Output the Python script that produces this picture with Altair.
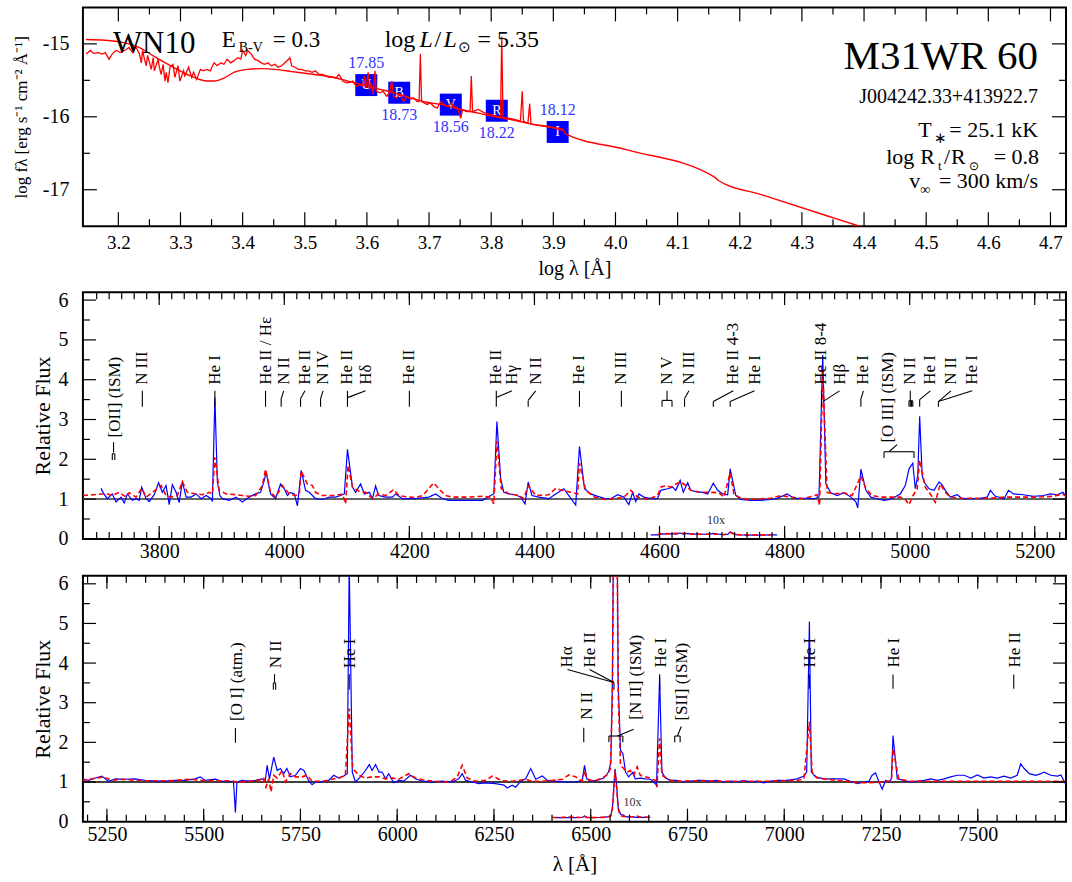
import altair as alt
import numpy as np
import pandas as pd

FONT = "Liberation Serif"
BLUE = "#0000ff"
RED = "#ff0000"
PHOT_TEXT = "#3333ff"

# ---------------------------------------------------------------------------
# Spectral energy distribution (top panel)
# ---------------------------------------------------------------------------
sed_obs_loglam = [
    3.148, 3.155, 3.160, 3.168, 3.174, 3.179, 3.185, 3.190, 3.196, 3.204,
    3.212, 3.217, 3.223, 3.226, 3.228, 3.234, 3.237, 3.239, 3.242, 3.245,
    3.247, 3.253, 3.256, 3.258, 3.264, 3.266, 3.269, 3.272, 3.275, 3.277,
    3.280, 3.283, 3.288, 3.291, 3.296, 3.299, 3.305, 3.307, 3.313, 3.318,
    3.321, 3.326, 3.332, 3.337, 3.343, 3.348, 3.354, 3.359, 3.365, 3.370,
    3.375, 3.381, 3.386, 3.392, 3.397, 3.400, 3.405, 3.408, 3.414, 3.419,
    3.425, 3.430, 3.435, 3.441, 3.446, 3.452, 3.457, 3.463, 3.468, 3.474,
    3.476, 3.479, 3.484, 3.490, 3.495, 3.501, 3.506, 3.512, 3.517, 3.523,
    3.528, 3.534, 3.539, 3.544, 3.550, 3.555, 3.561, 3.566, 3.572, 3.577,
    3.583, 3.588, 3.593, 3.596, 3.599, 3.602, 3.604, 3.607, 3.610, 3.613,
    3.615, 3.621, 3.626, 3.632, 3.637, 3.640, 3.643, 3.648, 3.653, 3.659,
    3.664, 3.670, 3.675, 3.681, 3.684, 3.686, 3.688, 3.697, 3.702, 3.708,
    3.713, 3.719, 3.724, 3.730, 3.735, 3.741, 3.746, 3.751, 3.754, 3.760,
    3.766, 3.768, 3.770, 3.779, 3.790, 3.801, 3.811, 3.815, 3.817, 3.819,
    3.828, 3.839, 3.847, 3.850, 3.852, 3.859, 3.862, 3.864, 3.886, 3.903,
    3.916,
]
sed_obs_logf = [
    -15.14, -15.09, -15.13, -15.12, -15.14, -15.12, -15.21, -15.14, -15.09, -15.12,
    -15.08, -15.05, -15.12, -15.07, -15.04, -15.14, -15.26, -15.09, -15.21, -15.30,
    -15.16, -15.35, -15.19, -15.37, -15.21, -15.32, -15.42, -15.28, -15.51, -15.39,
    -15.53, -15.32, -15.28, -15.46, -15.30, -15.51, -15.37, -15.44, -15.32, -15.46,
    -15.39, -15.49, -15.35, -15.37, -15.35, -15.37, -15.26, -15.30, -15.26, -15.28,
    -15.21, -15.26, -15.23, -15.19, -15.21, -15.09, -15.16, -15.09, -15.14, -15.21,
    -15.23, -15.26, -15.28, -15.26, -15.30, -15.28, -15.32, -15.30, -15.26, -15.21,
    -15.19, -15.30, -15.32, -15.35, -15.35, -15.37, -15.37, -15.39, -15.37, -15.42,
    -15.42, -15.44, -15.46, -15.45, -15.47, -15.42, -15.51, -15.53, -15.53, -15.51,
    -15.58, -15.56, -15.58, -15.44, -15.60, -15.39, -15.63, -15.53, -15.69, -15.37,
    -15.65, -15.67, -15.65, -15.72, -15.65, -15.51, -15.72, -15.74, -15.69, -15.79,
    -15.72, -15.76, -15.74, -15.79, -15.79, -15.14, -15.79, -15.83, -15.81, -15.86,
    -15.88, -15.79, -15.83, -15.86, -15.81, -15.86, -15.88, -16.02, -15.90, -15.93,
    -15.93, -15.44, -15.93, -15.90, -15.95, -15.97, -16.00, -16.00, -14.90, -16.00,
    -16.02, -16.04, -16.06, -15.65, -16.06, -16.09, -15.82, -16.10, -16.13, -16.16,
    -16.19,
]
sed_model_loglam = [
    3.148, 3.179, 3.207, 3.234, 3.261, 3.288, 3.316, 3.343, 3.354, 3.370,
    3.386, 3.408, 3.430, 3.452, 3.479, 3.506, 3.534, 3.561, 3.588, 3.615,
    3.643, 3.670, 3.697, 3.724, 3.751, 3.779, 3.806, 3.833, 3.854, 3.903,
    3.916, 3.919, 4.017, 4.160, 4.165, 4.236, 4.356, 4.400,
]
sed_model_logf = [
    -14.94, -14.95, -14.98, -15.05, -15.19, -15.32, -15.44, -15.51, -15.51, -15.47,
    -15.39, -15.35, -15.34, -15.35, -15.38, -15.41, -15.44, -15.49, -15.55, -15.61,
    -15.67, -15.74, -15.80, -15.84, -15.90, -15.95, -16.00, -16.04, -16.08, -16.15,
    -16.17, -16.23, -16.45, -16.83, -16.87, -17.07, -17.40, -17.52,
]
phot_band = ["U", "B", "V", "R", "I"]
phot_loglam = [3.599, 3.652, 3.735, 3.809, 3.907]
phot_logf = [-15.565, -15.670, -15.833, -15.917, -16.208]
phot_mag = ["17.85", "18.73", "18.56", "18.22", "18.12"]
phot_mag_side = ["above", "below", "below", "below", "above"]

# ---------------------------------------------------------------------------
# Normalized spectrum, blue range (middle panel)
# ---------------------------------------------------------------------------
mid_blue_wave = [
    3707, 3710, 3717, 3725, 3731, 3739, 3744, 3749, 3757, 3763,
    3768, 3772, 3779, 3784, 3792, 3799, 3805, 3811, 3816, 3821,
    3827, 3832, 3837, 3843, 3851, 3859, 3867, 3875, 3883, 3885,
    3889, 3893, 3897, 3901, 3912, 3923, 3933, 3944, 3954, 3962,
    3968, 3971, 3978, 3986, 3994, 4000, 4005, 4010, 4016, 4021,
    4027, 4034, 4040, 4045, 4050, 4061, 4072, 4082, 4090, 4096,
    4101, 4109, 4114, 4122, 4128, 4136, 4141, 4146, 4151, 4162,
    4173, 4178, 4189, 4210, 4231, 4242, 4253, 4263, 4290, 4317,
    4330, 4335, 4340, 4346, 4351, 4359, 4370, 4378, 4385, 4390,
    4396, 4407, 4423, 4434, 4447, 4455, 4466, 4472, 4480, 4490,
    4501, 4512, 4522, 4533, 4543, 4551, 4557, 4562, 4567, 4575,
    4586, 4597, 4602, 4613, 4621, 4626, 4633, 4638, 4645, 4650,
    4658, 4669, 4677, 4686, 4693, 4701, 4709, 4713, 4722, 4730,
    4746, 4762, 4778, 4788, 4804, 4815, 4831, 4847, 4855, 4861,
    4866, 4874, 4884, 4895, 4906, 4914, 4917, 4922, 4930, 4938,
    4948, 4959, 4969, 4985, 4993, 4999, 5005, 5009, 5013, 5016,
    5020, 5023, 5031, 5039, 5047, 5052, 5057, 5065, 5076, 5084,
    5097, 5113, 5124, 5129, 5137, 5151, 5158, 5166, 5182, 5198,
    5214, 5225, 5236, 5245, 5250,
]
mid_blue_flux = [
    1.27, 1.17, 1.01, 1.13, 0.93, 1.05, 0.90, 1.13, 0.97, 1.01,
    0.97, 1.30, 1.01, 0.94, 1.11, 1.41, 1.17, 1.34, 0.86, 1.36,
    1.17, 0.91, 1.44, 1.05, 1.05, 1.13, 1.01, 1.09, 1.01, 0.94,
    3.55, 1.43, 1.09, 1.01, 0.97, 1.05, 0.93, 1.05, 1.13, 1.17,
    1.47, 1.68, 1.13, 1.01, 1.38, 1.26, 1.09, 1.17, 1.13, 0.83,
    1.72, 1.22, 1.17, 1.09, 1.01, 0.99, 1.05, 1.05, 1.09, 1.13,
    2.25, 1.30, 1.17, 1.38, 1.13, 1.17, 1.01, 1.33, 1.09, 1.05,
    1.05, 1.13, 1.01, 1.01, 1.05, 1.13, 1.01, 0.97, 0.97, 0.97,
    1.09, 1.13, 2.95, 1.51, 1.17, 1.13, 1.11, 1.05, 0.88, 1.43,
    1.09, 1.05, 1.01, 1.13, 1.26, 1.09, 0.85, 2.32, 1.26, 1.13,
    1.07, 1.02, 1.01, 1.11, 1.05, 0.86, 1.17, 0.94, 1.13, 1.05,
    1.01, 1.02, 1.22, 1.26, 1.30, 1.22, 1.47, 1.17, 1.41, 1.22,
    1.19, 1.17, 1.13, 1.40, 1.22, 1.13, 1.11, 1.76, 1.09, 0.99,
    0.97, 0.97, 0.99, 1.02, 1.13, 1.02, 1.02, 1.01, 1.05, 4.62,
    1.38, 1.16, 1.09, 1.16, 1.05, 0.93, 0.78, 1.75, 1.22, 1.05,
    1.01, 0.97, 0.99, 1.13, 1.34, 1.76, 1.90, 1.26, 1.60, 3.08,
    1.60, 1.43, 1.26, 1.22, 1.43, 1.36, 1.22, 1.05, 1.11, 1.01,
    1.01, 1.02, 1.05, 1.22, 1.07, 1.01, 1.22, 1.13, 1.11, 1.07,
    1.09, 1.13, 1.11, 1.17, 1.07,
]
mid_red_wave = [
    3678, 3694, 3710, 3717, 3725, 3736, 3747, 3752, 3763, 3772,
    3779, 3795, 3803, 3811, 3819, 3829, 3837, 3845, 3859, 3869,
    3880, 3885, 3889, 3896, 3907, 3923, 3933, 3944, 3954, 3965,
    3970, 3978, 3986, 3997, 4008, 4018, 4024, 4027, 4037, 4045,
    4050, 4061, 4082, 4093, 4098, 4102, 4109, 4120, 4130, 4141,
    4151, 4162, 4175, 4183, 4199, 4210, 4221, 4231, 4239, 4247,
    4258, 4269, 4290, 4317, 4330, 4335, 4340, 4347, 4359, 4375,
    4383, 4390, 4402, 4423, 4434, 4444, 4460, 4469, 4472, 4482,
    4496, 4512, 4527, 4543, 4554, 4565, 4581, 4597, 4602, 4610,
    4618, 4626, 4634, 4642, 4650, 4666, 4682, 4695, 4703, 4713,
    4719, 4730, 4746, 4762, 4778, 4794, 4810, 4831, 4852, 4856,
    4861, 4868, 4879, 4895, 4908, 4922, 4930, 4940, 4953, 4969,
    4985, 4993, 4999, 5004, 5012, 5016, 5025, 5033, 5041, 5049,
    5057, 5065, 5081, 5097, 5124, 5151, 5177, 5204, 5230, 5244,
    5250,
]
mid_red_flux = [
    1.09, 1.11, 1.13, 1.13, 1.09, 1.17, 1.05, 1.16, 1.05, 1.27,
    1.05, 1.24, 1.34, 1.09, 1.05, 1.09, 1.44, 1.17, 1.13, 1.11,
    1.17, 1.13, 2.05, 1.22, 1.13, 1.11, 1.09, 1.07, 1.09, 1.34,
    1.75, 1.17, 1.05, 1.34, 1.13, 1.09, 1.13, 1.70, 1.38, 1.34,
    1.17, 1.09, 1.09, 1.13, 0.88, 1.85, 1.30, 1.19, 1.17, 1.01,
    1.13, 1.09, 1.24, 1.09, 1.05, 1.04, 1.09, 1.26, 1.41, 1.26,
    1.09, 1.05, 1.05, 1.07, 1.05, 0.88, 2.45, 1.26, 1.13, 1.09,
    1.01, 1.34, 1.09, 1.11, 1.27, 1.22, 1.17, 1.13, 1.90, 1.22,
    1.05, 0.99, 1.01, 1.05, 1.22, 1.05, 0.99, 1.09, 1.30, 1.34,
    1.30, 1.38, 1.43, 1.34, 1.22, 1.17, 1.17, 1.16, 1.05, 1.66,
    1.13, 1.02, 0.99, 1.01, 1.02, 1.09, 1.05, 1.01, 1.11, 0.84,
    4.25, 1.17, 1.13, 1.16, 1.09, 1.58, 1.26, 1.09, 1.05, 1.05,
    1.05, 0.99, 0.86, 1.05, 1.26, 1.98, 1.30, 1.13, 0.92, 1.38,
    1.17, 1.05, 1.02, 1.02, 1.02, 1.05, 1.05, 1.05, 1.07, 1.13,
    1.07,
]
mid_id_text = [
    "[OII] (ISM)", "N III", "He I", "He II / Hε", "N II", "He II", "N IV",
    "He II", "Hδ", "He II", "He II", "Hγ", "N II", "He I", "N III", "N V",
    "N III", "He II 4-3", "He I", "He II 8-4", "Hβ", "He I", "[O III] (ISM)",
    "N II", "He I", "N II", "He I",
]
mid_id_wave = [
    3729, 3773, 3889, 3970, 3999, 4033, 4062, 4101, 4130, 4200, 4339, 4364,
    4402, 4472, 4539, 4612, 4647, 4718, 4752, 4858, 4888, 4926, 4966, 5001,
    5033, 5066, 5100,
]
mid_id_flux = [2.55] + [3.87] * 21 + [2.42] + [3.87] * 4
# marker strokes below the identifications: (x1, y1, x2, y2)
mid_id_segments = [
    (3727, 2.17, 3727, 2.43), (3725, 1.98, 3725, 2.14), (3729, 1.98, 3729, 2.14),
    (3725, 2.14, 3729, 2.14),
    (3773, 3.32, 3773, 3.72), (3889, 3.32, 3889, 3.72), (3970, 3.32, 3970, 3.72),
    (3995, 3.32, 3995, 3.52), (3995, 3.52, 3999, 3.72),
    (4026, 3.32, 4026, 3.52), (4026, 3.52, 4033, 3.72),
    (4058, 3.32, 4058, 3.52), (4058, 3.52, 4062, 3.72),
    (4101, 3.32, 4101, 3.72), (4101, 3.55, 4130, 3.72),
    (4200, 3.32, 4200, 3.72),
    (4339, 3.32, 4339, 3.72), (4339, 3.55, 4364, 3.72),
    (4390, 3.32, 4390, 3.48), (4390, 3.48, 4402, 3.72),
    (4472, 3.32, 4472, 3.72), (4539, 3.32, 4539, 3.72),
    (4604, 3.32, 4604, 3.48), (4620, 3.32, 4620, 3.48), (4604, 3.48, 4620, 3.48),
    (4612, 3.48, 4612, 3.72),
    (4640, 3.32, 4640, 3.52), (4640, 3.52, 4647, 3.72),
    (4686, 3.32, 4686, 3.45), (4686, 3.45, 4718, 3.72),
    (4713, 3.32, 4713, 3.45), (4713, 3.45, 4752, 3.72),
    (4859, 3.32, 4859, 3.72), (4861, 3.45, 4888, 3.72),
    (4922, 3.32, 4922, 3.52), (4922, 3.52, 4926, 3.72),
    (4959, 2.03, 4959, 2.19), (5007, 2.03, 5007, 2.19), (4959, 2.19, 5007, 2.19),
    (4967, 2.19, 4980, 2.37),
    (4999, 3.32, 4999, 3.47), (5001, 3.32, 5001, 3.72), (5003, 3.32, 5003, 3.47),
    (5005, 3.32, 5005, 3.47), (4999, 3.47, 5005, 3.47),
    (5016, 3.32, 5016, 3.50), (5016, 3.50, 5033, 3.72),
    (5046, 3.32, 5046, 3.45), (5046, 3.45, 5066, 3.72), (5046, 3.45, 5100, 3.72),
]

# ---------------------------------------------------------------------------
# Normalized spectrum, red range (bottom panel)
# ---------------------------------------------------------------------------
bot_blue_wave = [
    5185, 5203, 5220, 5237, 5254, 5272, 5297, 5323, 5349, 5375,
    5401, 5427, 5453, 5478, 5491, 5504, 5530, 5547, 5565, 5577,
    5582, 5586, 5599, 5616, 5634, 5651, 5659, 5664, 5670, 5681,
    5690, 5698, 5707, 5715, 5724, 5737, 5750, 5759, 5771, 5780,
    5789, 5806, 5823, 5836, 5849, 5862, 5871, 5876, 5884, 5892,
    5905, 5918, 5928, 5935, 5944, 5953, 5961, 5970, 5978, 5991,
    6004, 6017, 6034, 6047, 6065, 6090, 6116, 6142, 6159, 6168,
    6177, 6194, 6211, 6228, 6254, 6276, 6284, 6297, 6306, 6319,
    6332, 6345, 6358, 6375, 6388, 6409, 6435, 6461, 6478, 6484,
    6490, 6499, 6516, 6534, 6546, 6552, 6556, 6560, 6563, 6567,
    6571, 6577, 6583, 6590, 6598, 6609, 6615, 6628, 6641, 6654,
    6663, 6670, 6678, 6684, 6693, 6706, 6723, 6740, 6758, 6775,
    6792, 6809, 6827, 6844, 6861, 6878, 6896, 6913, 6930, 6947,
    6965, 6982, 7008, 7033, 7051, 7058, 7065, 7070, 7081, 7102,
    7128, 7154, 7171, 7189, 7206, 7219, 7227, 7236, 7245, 7253,
    7262, 7271, 7277, 7281, 7292, 7309, 7327, 7344, 7361, 7378,
    7396, 7413, 7430, 7447, 7465, 7482, 7499, 7516, 7533, 7551,
    7568, 7585, 7602, 7611, 7620, 7633, 7650, 7663, 7671, 7689,
    7706, 7715, 7723, 7732,
]
bot_blue_flux = [
    1.08, 1.04, 1.10, 1.15, 1.02, 1.08, 1.07, 1.08, 1.04, 1.02,
    1.02, 1.04, 1.04, 1.08, 1.13, 1.04, 1.07, 1.02, 1.00, 1.02,
    0.23, 1.00, 1.04, 1.02, 1.04, 1.08, 1.02, 1.42, 1.08, 1.63,
    1.29, 1.34, 1.21, 1.34, 1.13, 1.17, 1.34, 1.29, 1.04, 0.93,
    1.00, 1.00, 1.04, 1.17, 1.10, 1.15, 1.21, 6.50, 1.25, 1.00,
    1.13, 1.29, 1.44, 1.29, 1.44, 1.25, 1.25, 1.08, 1.21, 0.98,
    1.04, 1.02, 1.17, 1.08, 1.02, 1.00, 1.02, 1.00, 1.08, 1.21,
    1.04, 1.00, 0.96, 0.98, 0.96, 0.92, 0.85, 0.92, 0.87, 1.02,
    1.08, 1.34, 1.07, 1.15, 1.04, 1.02, 1.00, 1.00, 1.04, 1.42,
    1.08, 1.02, 1.04, 1.10, 1.25, 1.50, 3.50, 9.00, 13.3, 9.00,
    3.50, 1.80, 1.72, 1.25, 1.13, 1.25, 1.08, 1.10, 1.08, 1.07,
    1.00, 0.92, 3.65, 1.25, 1.10, 1.04, 1.04, 1.00, 1.02, 1.04,
    1.04, 1.02, 1.04, 1.00, 1.02, 1.00, 1.04, 1.00, 1.02, 0.98,
    1.02, 1.04, 1.04, 1.08, 1.15, 1.25, 5.05, 1.25, 1.13, 1.08,
    1.08, 1.08, 1.02, 0.96, 1.00, 1.02, 1.17, 1.23, 1.00, 0.82,
    1.04, 1.00, 1.08, 2.17, 1.08, 1.04, 1.00, 1.02, 1.04, 1.08,
    1.04, 1.08, 1.13, 1.17, 1.17, 1.10, 1.18, 1.10, 1.13, 1.10,
    1.15, 1.10, 1.17, 1.46, 1.34, 1.21, 1.17, 1.21, 1.25, 1.17,
    1.15, 1.18, 1.02, 0.87,
]
bot_red_wave = [
    5185, 5211, 5241, 5263, 5289, 5323, 5358, 5392, 5427, 5461,
    5496, 5530, 5565, 5590, 5616, 5642, 5655, 5661, 5668, 5674,
    5681, 5690, 5703, 5711, 5724, 5737, 5754, 5767, 5780, 5806,
    5823, 5836, 5849, 5866, 5876, 5885, 5901, 5918, 5935, 5953,
    5970, 5987, 6004, 6030, 6047, 6073, 6099, 6125, 6142, 6155,
    6168, 6181, 6202, 6228, 6246, 6271, 6297, 6314, 6332, 6349,
    6375, 6401, 6427, 6444, 6461, 6478, 6484, 6490, 6508, 6525,
    6542, 6551, 6556, 6560, 6563, 6567, 6571, 6577, 6585, 6594,
    6602, 6611, 6620, 6628, 6641, 6654, 6667, 6671, 6678, 6684,
    6706, 6732, 6758, 6792, 6827, 6861, 6896, 6930, 6965, 6999,
    7033, 7051, 7065, 7072, 7085, 7111, 7137, 7163, 7189, 7223,
    7258, 7277, 7281, 7296, 7327, 7396, 7482, 7568, 7654, 7732,
]
bot_red_flux = [
    1.04, 1.08, 1.13, 1.04, 1.07, 1.04, 1.03, 1.03, 1.04, 1.07,
    1.04, 1.03, 1.03, 1.00, 1.02, 1.04, 1.10, 0.87, 1.08, 0.75,
    1.17, 1.10, 1.29, 1.00, 1.21, 1.13, 1.13, 1.17, 1.02, 1.02,
    1.04, 1.08, 1.10, 1.17, 2.85, 1.34, 1.17, 1.10, 1.13, 1.13,
    1.08, 1.10, 1.07, 1.21, 1.10, 1.04, 1.02, 1.00, 1.04, 1.13,
    1.42, 1.10, 1.02, 1.04, 1.15, 1.03, 1.02, 1.04, 1.07, 1.02,
    1.02, 1.04, 1.07, 1.18, 1.13, 1.02, 1.29, 1.08, 1.02, 1.08,
    1.17, 1.34, 3.20, 8.50, 13.0, 8.50, 3.20, 1.42, 1.34, 1.25,
    1.29, 1.17, 1.38, 1.17, 1.13, 1.10, 1.04, 0.87, 2.10, 1.17,
    1.04, 1.02, 1.03, 1.03, 1.02, 1.02, 1.02, 1.02, 1.02, 1.03,
    1.04, 1.08, 2.52, 1.25, 1.10, 1.07, 1.04, 1.02, 0.98, 0.98,
    1.00, 1.04, 1.84, 1.07, 1.02, 1.02, 1.02, 1.02, 1.02, 1.02,
]
bot_id_text = [
    "[O I] (atm.)", "N II", "He I", "N II", "Hα", "He II", "[N II] (ISM)",
    "He I", "[SII] (ISM)", "He I", "He I", "He II",
]
bot_id_wave = [5586, 5688, 5878, 6491, 6440, 6497, 6616, 6681, 6736, 7067, 7283, 7595]
bot_id_flux = [2.54, 3.87, 3.87, 2.57, 3.89, 3.89, 2.57, 3.89, 2.55, 3.89, 3.89, 3.89]
bot_id_segments = [
    (5582, 1.99, 5582, 2.36),
    (5683, 3.50, 5683, 3.72), (5680, 3.33, 5680, 3.50), (5686, 3.33, 5686, 3.50),
    (5680, 3.50, 5686, 3.50),
    (5876, 3.33, 5876, 3.72),
    (6482, 2.00, 6482, 2.37),
    (6560, 3.33, 6560, 3.51), (6560, 3.51, 6497, 3.84), (6560, 3.51, 6440, 3.84),
    (6547, 2.00, 6547, 2.16), (6583, 2.00, 6583, 2.16), (6547, 2.16, 6583, 2.16),
    (6569, 2.16, 6611, 2.33),
    (6678, 3.33, 6678, 3.72),
    (6717, 2.00, 6717, 2.16), (6731, 2.00, 6731, 2.16), (6717, 2.16, 6731, 2.16),
    (6724, 2.16, 6734, 2.40),
    (7065, 3.35, 7065, 3.71), (7281, 3.35, 7281, 3.71), (7593, 3.35, 7593, 3.71),
]

# ---------------------------------------------------------------------------
# helpers
# ---------------------------------------------------------------------------
W = 984
ONE = pd.DataFrame({"k": [0]})


def xq(field, dom, axis):
    return alt.X(field, type="quantitative",
                 scale=alt.Scale(domain=dom, nice=False, zero=False), axis=axis)


def yq(field, dom, axis):
    return alt.Y(field, type="quantitative",
                 scale=alt.Scale(domain=dom, nice=False, zero=False), axis=axis)


def frame_ticks(X, Y, H, xmaj, xmin, ymaj, ymin, big=13, small=7):
    """Inward-pointing ticks on all four sides of the frame."""
    out = []
    for vals, L in ((xmaj, big), (xmin, small)):
        base = alt.Chart(pd.DataFrame({"v": vals})).mark_rule(color="black", strokeWidth=1.2)
        out.append(base.encode(x=X("v"), y=alt.value(H), y2=alt.value(H - L)))
        out.append(base.encode(x=X("v"), y=alt.value(0), y2=alt.value(L)))
    for vals, L in ((ymaj, big), (ymin, small)):
        base = alt.Chart(pd.DataFrame({"v": vals})).mark_rule(color="black", strokeWidth=1.2)
        out.append(base.encode(y=Y("v"), x=alt.value(0), x2=alt.value(L)))
        out.append(base.encode(y=Y("v"), x=alt.value(W), x2=alt.value(W - L)))
    return out


def note(text, px, py, size, align="left", style="normal", color="black"):
    return alt.Chart(ONE).mark_text(
        text=text, font=FONT, fontSize=size, align=align, baseline="alphabetic",
        fontStyle=style, color=color,
    ).encode(x=alt.value(px), y=alt.value(py))


# ---------------------------------------------------------------------------
# top panel: SED
# ---------------------------------------------------------------------------
TH = 219
top_xticks = [round(v, 1) for v in np.arange(3.2, 4.75, 0.1)]
top_xaxis = alt.Axis(values=top_xticks, format=".1f",
                     labelFontSize=19, labelPadding=7, title="log λ [Å]",
                     titleFontSize=20, titlePadding=6)
top_yaxis = alt.Axis(values=[-15, -16, -17], labelExpr="'-' + abs(datum.value)",
                     labelFontSize=20, labelPadding=14,
                     title="log fλ  [erg s⁻¹ cm⁻² Å⁻¹]", titleFontSize=17, titlePadding=12)


def TXq(field):
    return xq(field, [3.143, 4.725], top_xaxis)


def TYq(field):
    return yq(field, [-17.5, -14.5], top_yaxis)


obs_df = pd.DataFrame({"x": sed_obs_loglam, "y": sed_obs_logf})
model_df = pd.DataFrame({"x": sed_model_loglam, "y": sed_model_logf})
phot_df = pd.DataFrame({"x": phot_loglam, "y": phot_logf, "band": phot_band,
                        "mag": phot_mag, "side": phot_mag_side})

top_layers = [
    alt.Chart(phot_df).mark_square(size=484, color=BLUE, opacity=1).encode(x=TXq("x"), y=TYq("y")),
    alt.Chart(phot_df).mark_text(font=FONT, fontSize=14, color="white", baseline="middle").encode(
        x=TXq("x"), y=TYq("y"), text="band:N"),
    alt.Chart(model_df).mark_line(color=RED, strokeWidth=1.4, interpolate="monotone", clip=True).encode(
        x=TXq("x"), y=TYq("y")),
    alt.Chart(obs_df).mark_line(color=RED, strokeWidth=1.3, clip=True).encode(x=TXq("x"), y=TYq("y")),
    alt.Chart(phot_df).transform_filter(alt.datum.side == "above").mark_text(
        font=FONT, fontSize=16, color=PHOT_TEXT, baseline="middle", dy=-22).encode(
        x=TXq("x"), y=TYq("y"), text="mag:N"),
    alt.Chart(phot_df).transform_filter(alt.datum.side == "below").mark_text(
        font=FONT, fontSize=16, color=PHOT_TEXT, baseline="middle", dy=22).encode(
        x=TXq("x"), y=TYq("y"), text="mag:N"),
    # star designation and parameters
    note("WN10", 30, 46, 31),
    note("E", 139, 40, 23),
    note("B-V", 156, 45, 14),
    note("= 0.3", 190, 40, 23),
    note("log", 302, 40, 24),
    note("L", 337, 40, 24, style="italic"),
    note("/", 352, 40, 24),
    note("L", 361, 40, 24, style="italic"),
    note("⊙", 375, 45, 15),
    note("= 5.35", 395, 40, 24),
    note("M31WR 60", 956, 62, 41, align="right"),
    note("J004242.33+413922.7", 956, 96, 20, align="right"),
    note("T", 836, 130, 22),
    note("∗", 852, 136, 15),
    note("=  25.1 kK", 956, 130, 22, align="right"),
    note("log", 804, 157, 22),
    note("R", 838, 157, 22),
    note("t", 856, 163, 13),
    note("/", 862, 157, 22),
    note("R", 869, 157, 22),
    note("⊙", 887, 163, 12),
    note("= 0.8", 957, 157, 22, align="right"),
    note("v", 827, 181, 22),
    note("∞", 838, 187, 14),
    note("=  300 km/s", 956, 181, 22, align="right"),
] + frame_ticks(TXq, TYq, TH, top_xticks,
                [round(v, 2) for v in np.arange(3.25, 4.75, 0.1)],
                [-15, -16, -17], [-15.5, -16.5], big=14, small=7)

top = alt.layer(*top_layers).properties(width=W, height=TH)


# ---------------------------------------------------------------------------
# spectrum panels
# ---------------------------------------------------------------------------
def spectrum_panel(bw, bf, rw, rf, xdom, H, xmaj, xmin, ids, segs, inset, tag, unity, xtitle):
    ydom = [0, 6.2]
    xaxis = alt.Axis(values=xmaj, format="d", labelFontSize=20, labelPadding=3,
                     title=xtitle, titleFontSize=21, titlePadding=9)
    yaxis = alt.Axis(values=[0, 1, 2, 3, 4, 5, 6], format="d", labelFontSize=20,
                     labelPadding=15, title="Relative Flux", titleFontSize=22, titlePadding=3)

    def X(field):
        return xq(field, xdom, xaxis)

    def Y(field):
        return yq(field, ydom, yaxis)

    blue = pd.DataFrame({"w": bw, "f": bf})
    red = pd.DataFrame({"w": rw, "f": rf})
    seg = pd.DataFrame(segs, columns=["x1", "y1", "x2", "y2"])
    idd = pd.DataFrame({"w": ids[1], "f": ids[2], "t": ids[0]})
    layers = [
        alt.Chart(pd.DataFrame({"f": [1.0]})).mark_rule(color=unity[0], strokeWidth=unity[1]).encode(
            y=Y("f")),
        alt.Chart(blue).mark_line(color=BLUE, strokeWidth=1.2, clip=True).encode(x=X("w"), y=Y("f")),
        alt.Chart(red).mark_line(color=RED, strokeWidth=1.6, strokeDash=[5, 3], clip=True).encode(
            x=X("w"), y=Y("f")),
        # ten-times compressed copy of a strong-line region
        alt.Chart(blue).transform_filter(alt.FieldRangePredicate(field="w", range=inset))
        .transform_calculate(g="datum.f / 10").mark_line(color=BLUE, strokeWidth=1.2).encode(
            x=X("w"), y=Y("g")),
        alt.Chart(red).transform_filter(alt.FieldRangePredicate(field="w", range=inset))
        .transform_calculate(g="datum.f / 10").mark_line(color=RED, strokeWidth=1.6, strokeDash=[5, 3]).encode(
            x=X("w"), y=Y("g")),
        alt.Chart(pd.DataFrame({"w": [tag[0]], "f": [tag[1]], "t": ["10x"]})).mark_text(
            font=FONT, fontSize=12, color="#333333", align="left", baseline="middle").encode(
            x=X("w"), y=Y("f"), text="t:N"),
        alt.Chart(seg).mark_rule(color="black", strokeWidth=1.1).encode(
            x=X("x1"), x2="x2:Q", y=Y("y1"), y2="y2:Q"),
        alt.Chart(idd).mark_text(angle=270, align="left", baseline="middle", font=FONT,
                                 fontSize=17, color="black").encode(
            x=X("w"), y=Y("f"), text="t:N"),
    ] + frame_ticks(X, Y, H, xmaj, xmin, [1, 2, 3, 4, 5, 6], [0.5, 1.5, 2.5, 3.5, 4.5, 5.5])
    return alt.layer(*layers).properties(width=W, height=H)


middle = spectrum_panel(
    mid_blue_wave, mid_blue_flux, mid_red_wave, mid_red_flux,
    [3678, 5250], 247,
    list(range(3800, 5201, 200)), list(range(3700, 5250, 20)),
    (mid_id_text, mid_id_wave, mid_id_flux), mid_id_segments,
    [4586, 4792], (4676, 0.47), ("#666666", 2), None,
)
bottom = spectrum_panel(
    bot_blue_wave, bot_blue_flux, bot_red_wave, bot_red_flux,
    [5188, 7728], 246,
    list(range(5250, 7501, 250)), list(range(5200, 7701, 50)),
    (bot_id_text, bot_id_wave, bot_id_flux), bot_id_segments,
    [6400, 6654], (6585, 0.5), ("black", 1.5), "λ [Å]",
)

chart = alt.vconcat(top, middle, bottom, spacing=9).properties(
    padding={"left": 11, "top": 5, "right": 4, "bottom": 0}
).configure_view(
    stroke="black", strokeWidth=2
).configure_axis(
    labelFont=FONT, titleFont=FONT, labelColor="black", titleColor="black",
    titleFontWeight="normal", grid=False, ticks=False, domain=False,
)

chart.save("out.html", embed_options={"renderer": "svg", "actions": False})
